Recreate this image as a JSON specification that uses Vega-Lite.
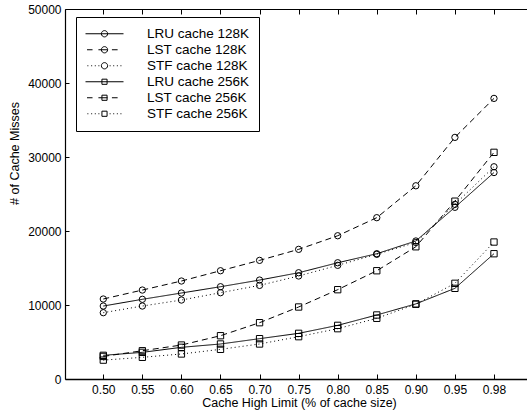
{
  "$schema": "https://vega.github.io/schema/vega-lite/v6.json",
  "width": 462,
  "height": 370,
  "autosize": "none",
  "padding": {"left": 65, "top": 9, "right": 0, "bottom": 38},
  "background": "white",
  "config": {
    "view": {"stroke": null},
    "font": "Liberation Sans",
    "axis": {"labelFont": "Liberation Sans", "titleFont": "Liberation Sans", "labelColor": "black", "titleColor": "black", "domainColor": "black", "tickColor": "black", "grid": false, "titleFontWeight": "normal"},
    "legend": {
      "title": null, "orient": "none", "legendX": 11, "legendY": 8,
      "padding": 9, "strokeColor": "black", "fillColor": "white",
      "symbolSize": 1444, "symbolStrokeWidth": 1, "symbolStrokeColor": "black",
      "labelFont": "Liberation Sans", "labelFontSize": 13.5, "labelColor": "black", "labelOffset": 23,
      "rowPadding": 0, "clipHeight": 15.5, "labelLimit": 300
    }
  },
  "data": {"values": [
    {"limit": "0.50", "series": "LRU cache 128K", "misses": 9860},
    {"limit": "0.55", "series": "LRU cache 128K", "misses": 10770},
    {"limit": "0.60", "series": "LRU cache 128K", "misses": 11620},
    {"limit": "0.65", "series": "LRU cache 128K", "misses": 12470},
    {"limit": "0.70", "series": "LRU cache 128K", "misses": 13370},
    {"limit": "0.75", "series": "LRU cache 128K", "misses": 14360},
    {"limit": "0.80", "series": "LRU cache 128K", "misses": 15710},
    {"limit": "0.85", "series": "LRU cache 128K", "misses": 16930},
    {"limit": "0.90", "series": "LRU cache 128K", "misses": 18650},
    {"limit": "0.95", "series": "LRU cache 128K", "misses": 23200},
    {"limit": "0.98", "series": "LRU cache 128K", "misses": 27900},
    {"limit": "0.50", "series": "LST cache 128K", "misses": 10810},
    {"limit": "0.55", "series": "LST cache 128K", "misses": 12020},
    {"limit": "0.60", "series": "LST cache 128K", "misses": 13240},
    {"limit": "0.65", "series": "LST cache 128K", "misses": 14630},
    {"limit": "0.70", "series": "LST cache 128K", "misses": 16030},
    {"limit": "0.75", "series": "LST cache 128K", "misses": 17520},
    {"limit": "0.80", "series": "LST cache 128K", "misses": 19360},
    {"limit": "0.85", "series": "LST cache 128K", "misses": 21800},
    {"limit": "0.90", "series": "LST cache 128K", "misses": 26110},
    {"limit": "0.95", "series": "LST cache 128K", "misses": 32650},
    {"limit": "0.98", "series": "LST cache 128K", "misses": 37920},
    {"limit": "0.50", "series": "STF cache 128K", "misses": 8960},
    {"limit": "0.55", "series": "STF cache 128K", "misses": 9860},
    {"limit": "0.60", "series": "STF cache 128K", "misses": 10670},
    {"limit": "0.65", "series": "STF cache 128K", "misses": 11660},
    {"limit": "0.70", "series": "STF cache 128K", "misses": 12650},
    {"limit": "0.75", "series": "STF cache 128K", "misses": 13920},
    {"limit": "0.80", "series": "STF cache 128K", "misses": 15360},
    {"limit": "0.85", "series": "STF cache 128K", "misses": 16850},
    {"limit": "0.90", "series": "STF cache 128K", "misses": 18450},
    {"limit": "0.95", "series": "STF cache 128K", "misses": 23600},
    {"limit": "0.98", "series": "STF cache 128K", "misses": 28680},
    {"limit": "0.50", "series": "LRU cache 256K", "misses": 3200},
    {"limit": "0.55", "series": "LRU cache 256K", "misses": 3600},
    {"limit": "0.60", "series": "LRU cache 256K", "misses": 4280},
    {"limit": "0.65", "series": "LRU cache 256K", "misses": 4730},
    {"limit": "0.70", "series": "LRU cache 256K", "misses": 5450},
    {"limit": "0.75", "series": "LRU cache 256K", "misses": 6170},
    {"limit": "0.80", "series": "LRU cache 256K", "misses": 7250},
    {"limit": "0.85", "series": "LRU cache 256K", "misses": 8650},
    {"limit": "0.90", "series": "LRU cache 256K", "misses": 10150},
    {"limit": "0.95", "series": "LRU cache 256K", "misses": 12250},
    {"limit": "0.98", "series": "LRU cache 256K", "misses": 16930},
    {"limit": "0.50", "series": "LST cache 256K", "misses": 3050},
    {"limit": "0.55", "series": "LST cache 256K", "misses": 3820},
    {"limit": "0.60", "series": "LST cache 256K", "misses": 4590},
    {"limit": "0.65", "series": "LST cache 256K", "misses": 5850},
    {"limit": "0.70", "series": "LST cache 256K", "misses": 7610},
    {"limit": "0.75", "series": "LST cache 256K", "misses": 9730},
    {"limit": "0.80", "series": "LST cache 256K", "misses": 12070},
    {"limit": "0.85", "series": "LST cache 256K", "misses": 14630},
    {"limit": "0.90", "series": "LST cache 256K", "misses": 17870},
    {"limit": "0.95", "series": "LST cache 256K", "misses": 24030},
    {"limit": "0.98", "series": "LST cache 256K", "misses": 30630},
    {"limit": "0.50", "series": "STF cache 256K", "misses": 2550},
    {"limit": "0.55", "series": "STF cache 256K", "misses": 2930},
    {"limit": "0.60", "series": "STF cache 256K", "misses": 3380},
    {"limit": "0.65", "series": "STF cache 256K", "misses": 4010},
    {"limit": "0.70", "series": "STF cache 256K", "misses": 4730},
    {"limit": "0.75", "series": "STF cache 256K", "misses": 5720},
    {"limit": "0.80", "series": "STF cache 256K", "misses": 6800},
    {"limit": "0.85", "series": "STF cache 256K", "misses": 8200},
    {"limit": "0.90", "series": "STF cache 256K", "misses": 10100},
    {"limit": "0.95", "series": "STF cache 256K", "misses": 12930},
    {"limit": "0.98", "series": "STF cache 256K", "misses": 18510}
  ]},
  "encoding": {
    "y": {"field": "misses", "type": "quantitative",
      "scale": {"domain": [0, 50000], "nice": false},
      "axis": {"orient": "left", "values": [0, 10000, 20000, 30000, 40000, 50000], "format": "d", "ticks": true, "tickSize": -4, "labelPadding": 8, "labelFontSize": 12, "labelFlush": false, "domainWidth": 1.2, "title": "# of Cache Misses", "titleFontSize": 12.5, "titleAngle": -90, "titleBaseline": "alphabetic", "titleAlign": "center", "titleX": -46.5, "titleY": 144}}
  },
  "layer": [
    {
      "mark": {"type": "line", "strokeWidth": 1},
      "encoding": {
        "x": {"field": "limit", "type": "ordinal", "sort": null,
          "scale": {"type": "point", "padding": 0.9125, "align": 0.537},
          "axis": {"orient": "bottom", "labelAngle": 0, "ticks": true, "tickSize": -5, "labelPadding": 10, "labelFontSize": 12, "domainWidth": 1.5, "title": "Cache High Limit (% of cache size)", "titleFontSize": 12.5, "titleBaseline": "alphabetic", "titleX": 234, "titleY": 27.5}},
        "strokeDash": {"field": "series", "type": "nominal",
          "scale": {"domain": ["LRU cache 128K", "LRU cache 256K", "LST cache 128K", "LST cache 256K", "STF cache 128K", "STF cache 256K"],
            "range": [[1, 0], [1, 0], [6, 4], [6, 4], [1, 3], [1, 3]]},
          "legend": null},
        "color": {"field": "series", "type": "nominal",
          "scale": {"domain": ["LRU cache 128K", "LST cache 128K", "STF cache 128K", "LRU cache 256K", "LST cache 256K", "STF cache 256K"],
            "range": ["black", "black", "black", "black", "black", "black"]},
          "legend": {
            "encode": {"symbols": {"update": {
              "size": {"value": 1444},
              "opacity": {"value": 1},
              "fill": {"value": "transparent"},
              "strokeWidth": {"value": 1},
              "shape": {"signal": "datum.value === 'LRU cache 128K' ? 'M-1,0H1M0.165,0A0.165,0.165,0,1,1,-0.165,0A0.165,0.165,0,1,1,0.165,0Z' : datum.value === 'LST cache 128K' ? 'M-0.92,0H-0.63M-0.32,0H0.16M0.39,0H0.69M0.165,0A0.165,0.165,0,1,1,-0.165,0A0.165,0.165,0,1,1,0.165,0Z' : datum.value === 'STF cache 128K' ? 'M-0.9,0h0.05M-0.7,0h0.05M-0.51,0h0.05M-0.32,0h0.05M0.27,0h0.05M0.46,0h0.05M0.65,0h0.05M0.84,0h0.05M0.165,0A0.165,0.165,0,1,1,-0.165,0A0.165,0.165,0,1,1,0.165,0Z' : datum.value === 'LRU cache 256K' ? 'M-1,0H1M-0.135,-0.135H0.135V0.135H-0.135Z' : datum.value === 'LST cache 256K' ? 'M-0.92,0H-0.63M-0.32,0H0.16M0.39,0H0.69M-0.135,-0.135H0.135V0.135H-0.135Z' : 'M-0.9,0h0.05M-0.7,0h0.05M-0.51,0h0.05M-0.32,0h0.05M0.27,0h0.05M0.46,0h0.05M0.65,0h0.05M0.84,0h0.05M-0.135,-0.135H0.135V0.135H-0.135Z'"}
            }}}
          }}
      }
    },
    {
      "mark": {"type": "point", "filled": false, "color": "black", "strokeWidth": 1, "opacity": 1, "size": 40},
      "encoding": {
        "x": {"field": "limit", "type": "ordinal", "sort": null,
          "axis": {"orient": "top", "labels": false, "title": null, "ticks": true, "tickSize": -5, "domainWidth": 1.2}},
        "shape": {"field": "series", "type": "nominal",
          "scale": {"domain": ["LRU cache 128K", "LRU cache 256K", "LST cache 128K", "LST cache 256K", "STF cache 128K", "STF cache 256K"],
            "range": ["circle", "square", "circle", "square", "circle", "square"]},
          "legend": null}
      }
    }
  ]
}
